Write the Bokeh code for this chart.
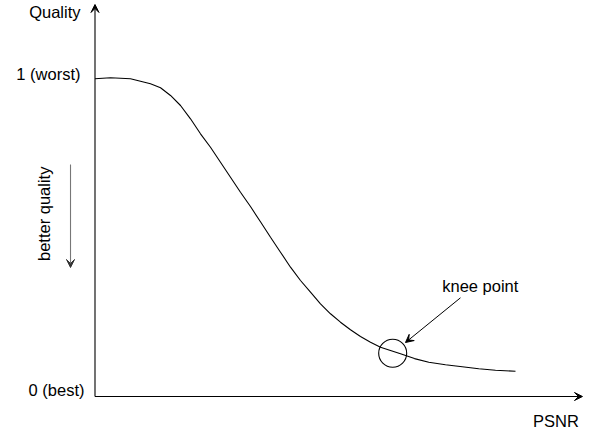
import math
from bokeh.plotting import figure
from bokeh.models import Range1d, Arrow, VeeHead
from bokeh.core.properties import value
from bokeh.embed import file_html
from bokeh.resources import INLINE

# ---- data ----
psnr = [0.000, 0.369, 0.845, 1.321, 1.560, 1.798, 2.036, 2.274, 2.512, 2.750,
        2.988, 3.226, 3.464, 3.702, 3.940, 4.179, 4.417, 4.655, 4.893, 5.131,
        5.369, 5.607, 5.845, 6.083, 6.321, 6.560, 6.798, 7.036, 7.274, 7.607,
        7.948, 8.345, 8.743, 9.138, 9.536, 10.012]
quality = [0.9975, 1.0006, 0.9975, 0.9818, 0.9692, 0.9451, 0.9137, 0.8719, 0.8248, 0.7827,
           0.7356, 0.6885, 0.6414, 0.5965, 0.5487, 0.5002, 0.4531, 0.4060, 0.3642, 0.3275,
           0.2911, 0.2597, 0.2333, 0.2094, 0.1884, 0.1705, 0.1548, 0.1444, 0.1341, 0.1190,
           0.1077, 0.0995, 0.0933, 0.0870, 0.0826, 0.0794]
y_tick_values = [1, 0]
y_tick_labels = ["1 (worst)", "0 (best)"]
y_axis_title = "Quality"
x_axis_title = "PSNR"
direction_label = "better quality"
knee_label = "knee point"
knee_x = [7.088]
knee_y = [0.136]

FONT = value("Liberation Sans")
FS = value("16.5px")
DY = 0.0204  # baseline correction

p = figure(width=590, height=430, output_backend="svg", toolbar_location=None,
           x_axis_type=None, y_axis_type=None, min_border=0,
           x_range=Range1d(-2.25, 11.798), y_range=Range1d(-0.10675, 1.24333))
p.grid.visible = False
p.outline_line_color = None
p.background_fill_color = "white"
p.border_fill_color = "white"

def head(color="black"):
    return VeeHead(size=8, fill_color=color, line_color=color, line_width=1)

# axes with arrows
p.add_layout(Arrow(x_start=0, y_start=0, x_end=0, y_end=1.2308,
                   line_color="black", line_width=1.1, end=head()))
p.add_layout(Arrow(x_start=0, y_start=0, x_end=11.607, y_end=0,
                   line_color="black", line_width=1.1, end=head()))

# curve
p.line(psnr, quality, line_color="black", line_width=1.1)

# knee circle
p.scatter(knee_x, knee_y, marker="circle", size=28, fill_color=None,
          line_color="black", line_width=1.1)

# knee arrow
p.add_layout(Arrow(x_start=8.702, y_start=0.3099, x_end=7.393, y_end=0.1695,
                   line_color="black", line_width=1, end=head()))

# better-quality arrow
p.add_layout(Arrow(x_start=-0.583, y_start=0.7284, x_end=-0.583, y_end=0.405,
                   line_color="#777777", line_width=1.1, end=head("#333333")))

# texts
p.text(x=[-0.345], y=[1.188 + DY], text=[y_axis_title], text_font=FONT, text_font_size=FS,
       text_align="right", text_baseline="alphabetic", text_color="black")
p.text(x=[-0.345], y=[y_tick_values[0] - 0.0063 + DY], text=[y_tick_labels[0]], text_font=FONT,
       text_font_size=FS, text_align="right", text_baseline="alphabetic", text_color="black")
p.text(x=[-0.25], y=[y_tick_values[1] + DY], text=[y_tick_labels[1]], text_font=FONT,
       text_font_size=FS, text_align="right", text_baseline="alphabetic", text_color="black")
p.text(x=[11.52], y=[-0.0964 + DY], text=[x_axis_title], text_font=FONT, text_font_size=FS,
       text_align="right", text_baseline="alphabetic", text_color="black")
p.text(x=[8.267], y=[0.3275 + DY], text=[knee_label], text_font=FONT, text_font_size=FS,
       text_align="left", text_baseline="alphabetic", text_color="black")
p.text(x=[-1.2025], y=[0.5736], text=[direction_label], text_font=FONT, text_font_size=FS,
       text_align="center", text_baseline="alphabetic", angle=math.pi / 2,
       text_color="black")

open("out.html", "w").write(file_html(p, INLINE))
